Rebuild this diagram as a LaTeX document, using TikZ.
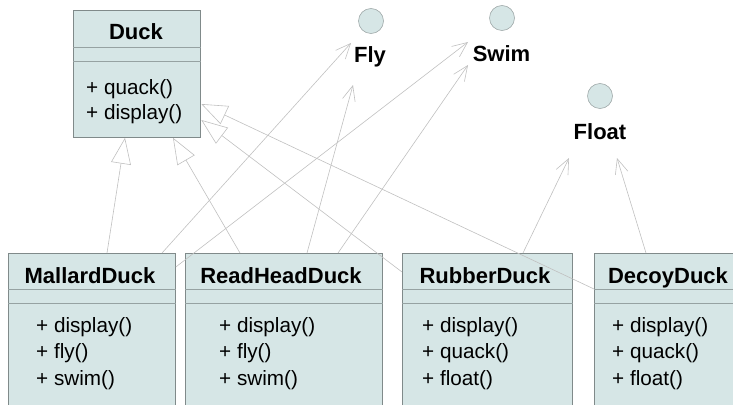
\documentclass[tikz,border=0pt]{standalone}
\usepackage{fontspec}
\setmainfont{Liberation Sans}
\usetikzlibrary{arrows.meta,calc}

\definecolor{boxfill}{RGB}{214,230,230}
\definecolor{boxline}{RGB}{128,138,138}
\definecolor{sepcol}{RGB}{150,162,162}
\definecolor{wire}{RGB}{192,192,192}
\definecolor{ifaceline}{RGB}{160,170,170}

\begin{document}
\begin{tikzpicture}[x=1pt,y=-1pt,
  classbox/.style={draw=boxline, fill=boxfill, line width=0.8pt, rectangle,
    inner sep=0pt, anchor=north west},
  sepline/.style={draw=sepcol, line width=0.7pt},
  classname/.style={font=\fontsize{22}{26}\selectfont\bfseries, anchor=base, inner sep=0pt},
  member/.style={font=\fontsize{20.7}{26}\selectfont, anchor=base west, inner sep=0pt},
  iface/.style={circle, draw=ifaceline, fill=boxfill, line width=0.6pt,
    minimum size=25pt, inner sep=0pt},
  ifacename/.style={font=\fontsize{22}{26}\selectfont\bfseries, anchor=base, inner sep=0pt},
  inherit/.style={draw=wire, line width=0.6pt,
    -{Triangle[open, length=26pt, width=20pt]}},
  realize/.style={draw=wire, line width=0.6pt,
    -{Straight Barb[length=15pt, width=13pt]}},
]
\clip (0,0) rectangle (733,404);

% --- base class
\node[classbox, minimum width=127pt, minimum height=127pt] (duck) at (73,10) {};
\draw[sepline] ($(duck.north west)+(0,37)$) -- ($(duck.north east)+(0,37)$);
\draw[sepline] ($(duck.north west)+(0,51)$) -- ($(duck.north east)+(0,51)$);
\node[classname] (duckname) at (136,40) {Duck};
\node[member] (duckm1) at (86,94) {+ quack()};
\node[member] (duckm2) at (86,119) {+ display()};

% --- interfaces
\node[iface] (fly) at (371,21) {};
\node[ifacename] (flylbl) at (370,63) {Fly};
\node[iface] (swim) at (502,18) {};
\node[ifacename] (swimlbl) at (501.5,61) {Swim};
\node[iface] (float) at (600,96) {};
\node[ifacename] (floatlbl) at (600,139) {Float};

% --- concrete classes
\node[classbox, minimum width=167pt, minimum height=170pt] (mallard) at (8,253) {};
\node[classbox, minimum width=197pt, minimum height=170pt] (redhead) at (185,253) {};
\node[classbox, minimum width=170pt, minimum height=170pt] (rubber) at (402,253) {};
\node[classbox, minimum width=150pt, minimum height=170pt] (decoy) at (594,253) {};
\foreach \c in {mallard,redhead,rubber,decoy}{
  \draw[sepline] ($(\c.north west)+(0,36)$) -- ($(\c.north east)+(0,36)$);
  \draw[sepline] ($(\c.north west)+(0,50)$) -- ($(\c.north east)+(0,50)$);
}

\node[classname] (mallardname) at (90,283) {MallardDuck};
\node[member] (mallardm1) at (36,332) {+ display()};
\node[member] (mallardm2) at (36,358) {+ fly()};
\node[member] (mallardm3) at (36,385) {+ swim()};

\node[classname] (redheadname) at (281,283) {ReadHeadDuck};
\node[member] (redheadm1) at (219,332) {+ display()};
\node[member] (redheadm2) at (219,358) {+ fly()};
\node[member] (redheadm3) at (219,385) {+ swim()};

\node[classname] (rubbername) at (485,283) {RubberDuck};
\node[member] (rubberm1) at (422,332) {+ display()};
\node[member] (rubberm2) at (422,358) {+ quack()};
\node[member] (rubberm3) at (422,385) {+ float()};

\node[classname] (decoyname) at (668,283) {DecoyDuck};
\node[member] (decoym1) at (612,332) {+ display()};
\node[member] (decoym2) at (612,358) {+ quack()};
\node[member] (decoym3) at (612,385) {+ float()};

% --- generalizations
\draw[inherit] ($(mallard.north west)+(99,0)$) -- ($(duck.south west)+(52,0)$);
\draw[inherit] ($(redhead.north west)+(55,0)$) -- ($(duck.south west)+(100,0)$);
\draw[inherit] ($(rubber.north west)+(0,19)$) -- ($(duck.north east)+(0.5,110)$);
\draw[inherit] ($(decoy.north west)+(0,36)$) -- ($(duck.north east)+(0.5,94)$);

% --- realizations
\draw[realize] ($(mallard.north west)+(154,0)$) -- ($(flylbl.base)+(-19,-20)$);
\draw[realize] ($(mallard.north east)+(0,14)$) -- ($(swimlbl.base)+(-33.5,-19)$);
\draw[realize] ($(redhead.north west)+(122,0)$) -- ($(flylbl.base)+(-17,22)$);
\draw[realize] ($(redhead.north west)+(153,0)$) -- ($(swimlbl.base)+(-33.5,4)$);
\draw[realize] ($(rubber.north west)+(121,0)$) -- ($(floatlbl.base)+(-31,19)$);
\draw[realize] ($(decoy.north west)+(52,0)$) -- ($(floatlbl.base)+(17,19)$);
\end{tikzpicture}
\end{document}
